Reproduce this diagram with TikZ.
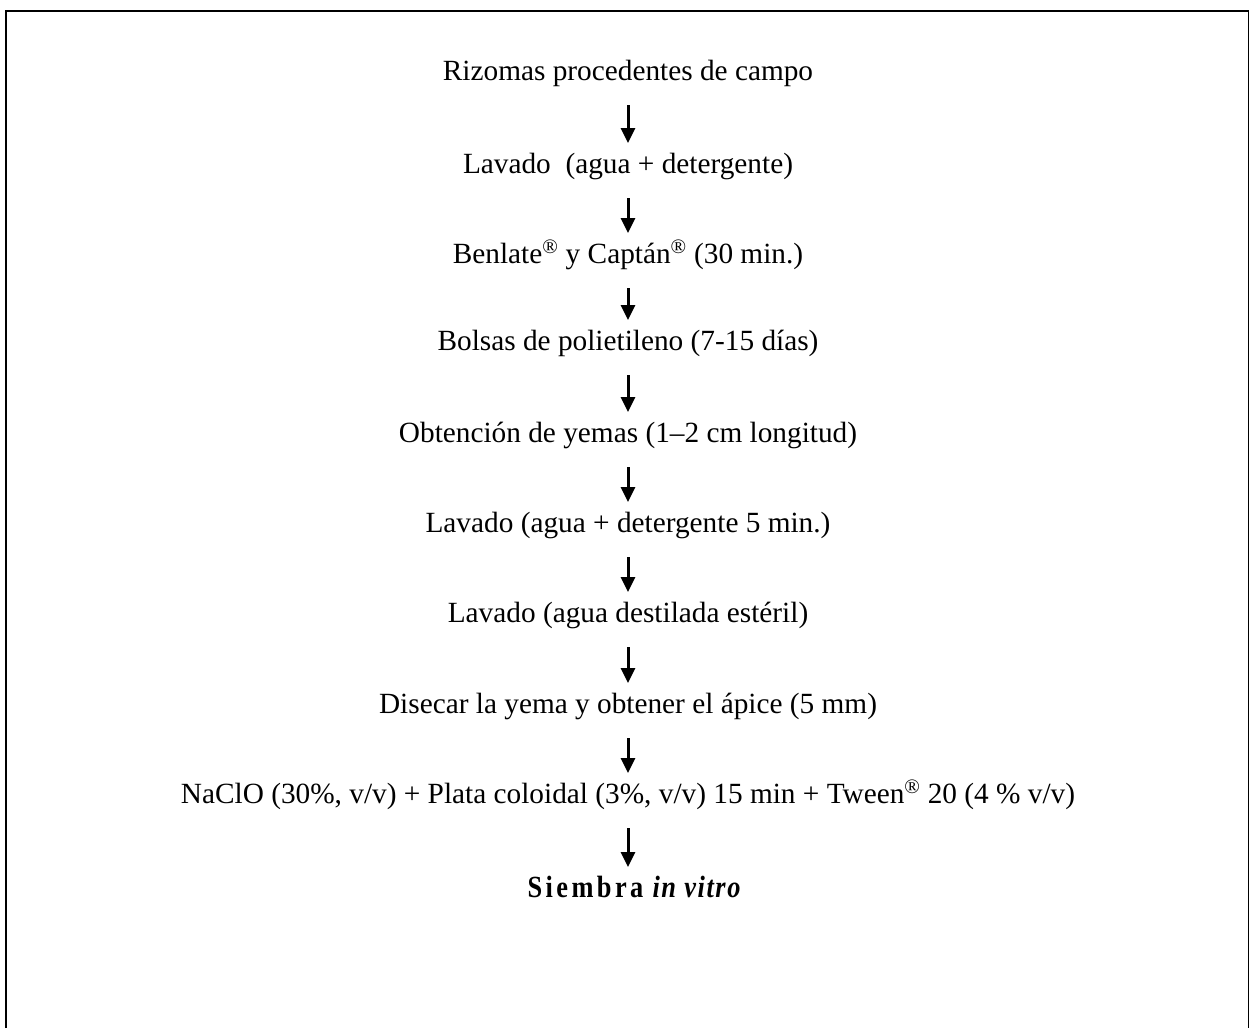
\documentclass[tikz,border=0pt]{standalone}
\usepackage{fontspec}
\setmainfont{Liberation Serif}
\newfontfamily\spacedbf[LetterSpace=13]{Liberation Serif}
\newfontfamily\spacedit[LetterSpace=6]{Liberation Serif}
\usetikzlibrary{arrows.meta}
\begin{document}
\begin{tikzpicture}[x=1pt,y=-1pt,
  txt/.style={anchor=base,inner sep=0pt,font=\fontsize{29.3}{35}\selectfont},
  arr/.style={line width=3pt,-{Triangle[length=15pt,width=14pt]},shorten <=25pt,shorten >=30pt}]
\useasboundingbox (0,0) rectangle (1250,1028);
\draw[line width=1.7pt] (5.8,1028) -- (5.8,10.8) -- (1248.5,10.8) -- (1248.5,1028);
\coordinate (ax) at (628,0);
\newcommand{\reg}{\textsuperscript{\textregistered}}
\node[txt] (n1) at (628,80) {Rizomas procedentes de campo};
\node[txt] (n2) at (628,173) {Lavado \ (agua + detergente)};
\node[txt] (n3) at (628,263) {Benlate\reg{} y Captán\reg{} (30 min.)};
\node[txt] (n4) at (628,350) {Bolsas de polietileno (7-15 días)};
\node[txt] (n5) at (628,442) {Obtención de yemas (1–2 cm longitud)};
\node[txt] (n6) at (628,532) {Lavado (agua + detergente 5 min.)};
\node[txt] (n7) at (628,622) {Lavado (agua destilada estéril)};
\node[txt] (n8) at (628,713) {Disecar la yema y obtener el ápice (5 mm)};
\node[txt] (n9) at (628,803) {NaClO (30\%, v/v) + Plata coloidal (3\%, v/v) 15 min + Tween\reg{} 20 (4 \% v/v)};
\node[txt] (n10) at (634,897) {\scalebox{0.9}[1.05]{{\spacedbf\bfseries Siembra}\hspace{0.35em}{\spacedit\bfseries\itshape in vitro}}};
\foreach \a/\b in {n1/n2,n2/n3,n3/n4,n4/n5,n5/n6,n6/n7,n7/n8,n8/n9,n9/n10}
  \draw[arr] (ax |- \a.base) -- (ax |- \b.base);
\end{tikzpicture}
\end{document}
